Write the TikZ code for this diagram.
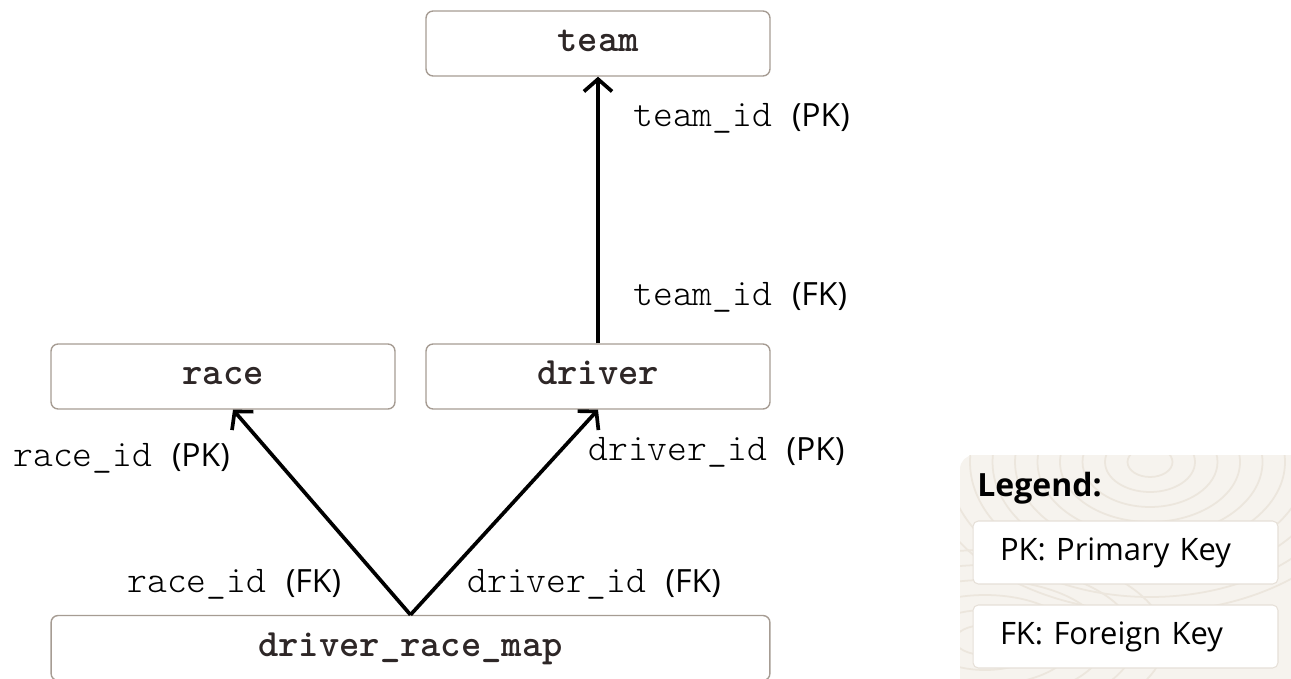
\documentclass[tikz,border=0pt]{standalone}
\usepackage{fontspec}
\setmainfont{Open Sans}
\newfontfamily\lightmono{lmmonolt10-regular.otf}[BoldFont=lmmonolt10-bold.otf]
\usetikzlibrary{arrows.meta,positioning,calc}

\definecolor{tableline}{HTML}{A69C93}
\definecolor{tabletext}{HTML}{2E2727}
\definecolor{legendbg}{HTML}{F6F3EE}
\definecolor{legendgrain}{HTML}{ECE6DD}
\definecolor{legendline}{HTML}{E6E0D8}

\tikzset{
  table/.style={rectangle, draw=tableline, line width=0.8pt, rounded corners=4pt, fill=white,
    minimum width=6.88cm, minimum height=1.3cm, inner sep=0pt, text=tabletext,
    text height=12pt, text depth=2.4pt,
    font=\fontsize{22}{24}\selectfont\lightmono\bfseries},
  key/.style={anchor=base west, inner sep=0pt, font=\fontsize{18.2}{22}\selectfont},
  link/.style={line width=2.1pt, -{Straight Barb[length=7pt,width=16pt]}},
  legendkey/.style={rectangle, draw=legendline, line width=0.6pt, rounded corners=3pt, fill=white,
    minimum height=1.26cm, inner xsep=0.54cm, inner ysep=0pt, text width=5.02cm, align=left,
    font=\fontsize{17.6}{22}\selectfont}
}
\newcommand{\keyname}[1]{{\fontsize{21.5}{24}\selectfont\lightmono #1 }}

\begin{document}
\begin{tikzpicture}[x=0.02cm, y=-0.02cm]
\useasboundingbox (0,0) rectangle (1291,679);

% tables
\node[table] (team) at (598,43.5) {team};
\node[table] (race) at (223,376.5) {race};
\node[table] (driver) at (598,376.5) {driver};
\node[table, minimum width=14.38cm] (map) at (410.5,648) {driver\_race\_map};

% key links
\draw[link] (driver.north) -- (team.south);
\draw[link] (map.north) -- ([xshift=0.2cm]race.south);
\draw[link] (map.north) -- (driver.south);

% key labels
\node[key] (teampk) at (633,127) {\keyname{team\_id}(PK)};
\node[key] (teamfk) at (633,305) {\keyname{team\_id}(FK)};
\node[key] (racepk) at (13,466) {\keyname{race\_id}(PK)};
\node[key] (driverpk) at (588,460) {\keyname{driver\_id}(PK)};
\node[key] (racefk) at (127,592) {\keyname{race\_id}(FK)};
\node[key] (driverfk) at (467,592) {\keyname{driver\_id}(FK)};

% legend panel
\fill[legendbg, rounded corners=8pt] (960,455) rectangle (1320,700);
\begin{scope}
  \clip (960,455) rectangle (1291,679);
  \foreach \r in {15,30,...,150}
    \draw[legendgrain, line width=1pt] (1150,462) ellipse ({\r*1.5} and \r);
  \foreach \r in {15,30,...,90}
    \draw[legendgrain, line width=1pt] (985,640) ellipse ({\r*2} and \r);
\end{scope}
\node[anchor=base west, inner sep=0pt, font=\fontsize{18.2}{22}\selectfont\bfseries] (legend) at (977,496) {Legend:};
\node[legendkey] (pkkey) at (1125.5,552.5) {PK: Primary Key};
\node[legendkey] (fkkey) at (1125.5,636.5) {FK: Foreign Key};
\end{tikzpicture}
\end{document}
